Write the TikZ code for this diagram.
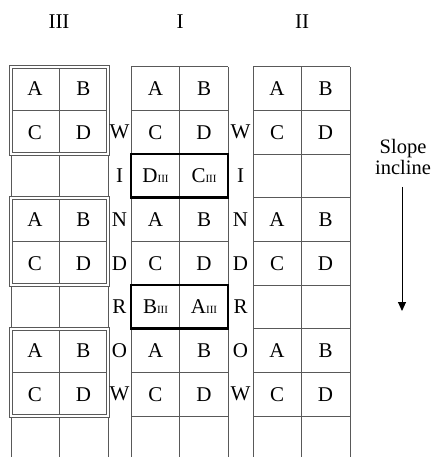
\documentclass[tikz,border=0pt]{standalone}
\usepackage{fontspec}
\setmainfont{Liberation Serif}
\usetikzlibrary{arrows.meta}
\newcommand{\sbIII}[1]{#1{\fontsize{11}{11}\selectfont III}}
\begin{document}
\begin{tikzpicture}[x=1pt,y=-1pt,
  gridline/.style={draw=black!65, line width=1pt},
  dblbox/.style={draw=black!65, line width=1pt, double=white, double distance=2pt},
  boldbox/.style={draw=black, line width=2.8pt},
  cell/.style={inner sep=0pt, font=\fontsize{21}{21}\selectfont},
  side/.style={inner sep=0pt, font=\fontsize{21}{21}\selectfont},
  head/.style={inner sep=0pt, font=\fontsize{21}{21}\selectfont},
  lbl/.style={inner sep=0pt, align=center, font=\fontsize{20.5}{21}\selectfont},
  arr/.style={line width=1pt, -{Triangle[width=8pt,length=9pt]}}]
\useasboundingbox (0,0) rectangle (431,457);
\def\rh{43.65}
\def\ytop{66.8}
% column headers
\node[head] (hIII) at (59,22) {III};
\node[head] (hI) at (180,22) {I};
\node[head] (hII) at (302,22) {II};
% grids: column left edges
\foreach \cx/\nm in {11/III, 131/I, 253/II}{
  \foreach \dx in {0,48.5,97}{
    \draw[gridline] (\cx+\dx,\ytop) -- (\cx+\dx,457);
  }
  \foreach \i in {0,...,8}{
    \draw[gridline] (\cx,\ytop+\i*\rh) -- (\cx+97,\ytop+\i*\rh);
  }
}
% double boxes in column III
\foreach \i in {0,3,6}{
  \draw[dblbox] (11,\ytop+\i*\rh) rectangle (108,\ytop+\i*\rh+2*\rh);
}
% bold boxes in column I
\draw[boldbox] (131,\ytop+2*\rh) rectangle (228,\ytop+3*\rh);
\draw[boldbox] (131,\ytop+5*\rh) rectangle (228,\ytop+6*\rh);
% cell letters
\foreach \cx/\nm in {35/III, 155.5/I, 277/II}{
  \foreach \i in {0,3,6}{
    \node[cell] (\nm-A-\i) at (\cx,\ytop+\i*\rh+0.5*\rh) {A};
    \node[cell] (\nm-B-\i) at (\cx+48.5,\ytop+\i*\rh+0.5*\rh) {B};
    \node[cell] (\nm-C-\i) at (\cx,\ytop+\i*\rh+1.5*\rh) {C};
    \node[cell] (\nm-D-\i) at (\cx+48.5,\ytop+\i*\rh+1.5*\rh) {D};
  }
}
\node[cell] (I-DIII) at (155.5,\ytop+2.5*\rh) {\sbIII{D}};
\node[cell] (I-CIII) at (204,\ytop+2.5*\rh) {\sbIII{C}};
\node[cell] (I-BIII) at (155.5,\ytop+5.5*\rh) {\sbIII{B}};
\node[cell] (I-AIII) at (204,\ytop+5.5*\rh) {\sbIII{A}};
% WINDROW letters
\foreach \L [count=\k] in {W,I,N,D,R,O,W}{
  \node[side] (wl\k) at (119.5,\ytop+\k*\rh+0.5*\rh) {\L};
  \node[side] (wr\k) at (240.5,\ytop+\k*\rh+0.5*\rh) {\L};
}
% slope incline
\node[lbl] (slope) at (403,157) {Slope\\incline};
\coordinate (aend) at (402,311);
\draw[arr] (slope.south -| aend) ++(0,12) -- (aend);
\end{tikzpicture}
\end{document}
